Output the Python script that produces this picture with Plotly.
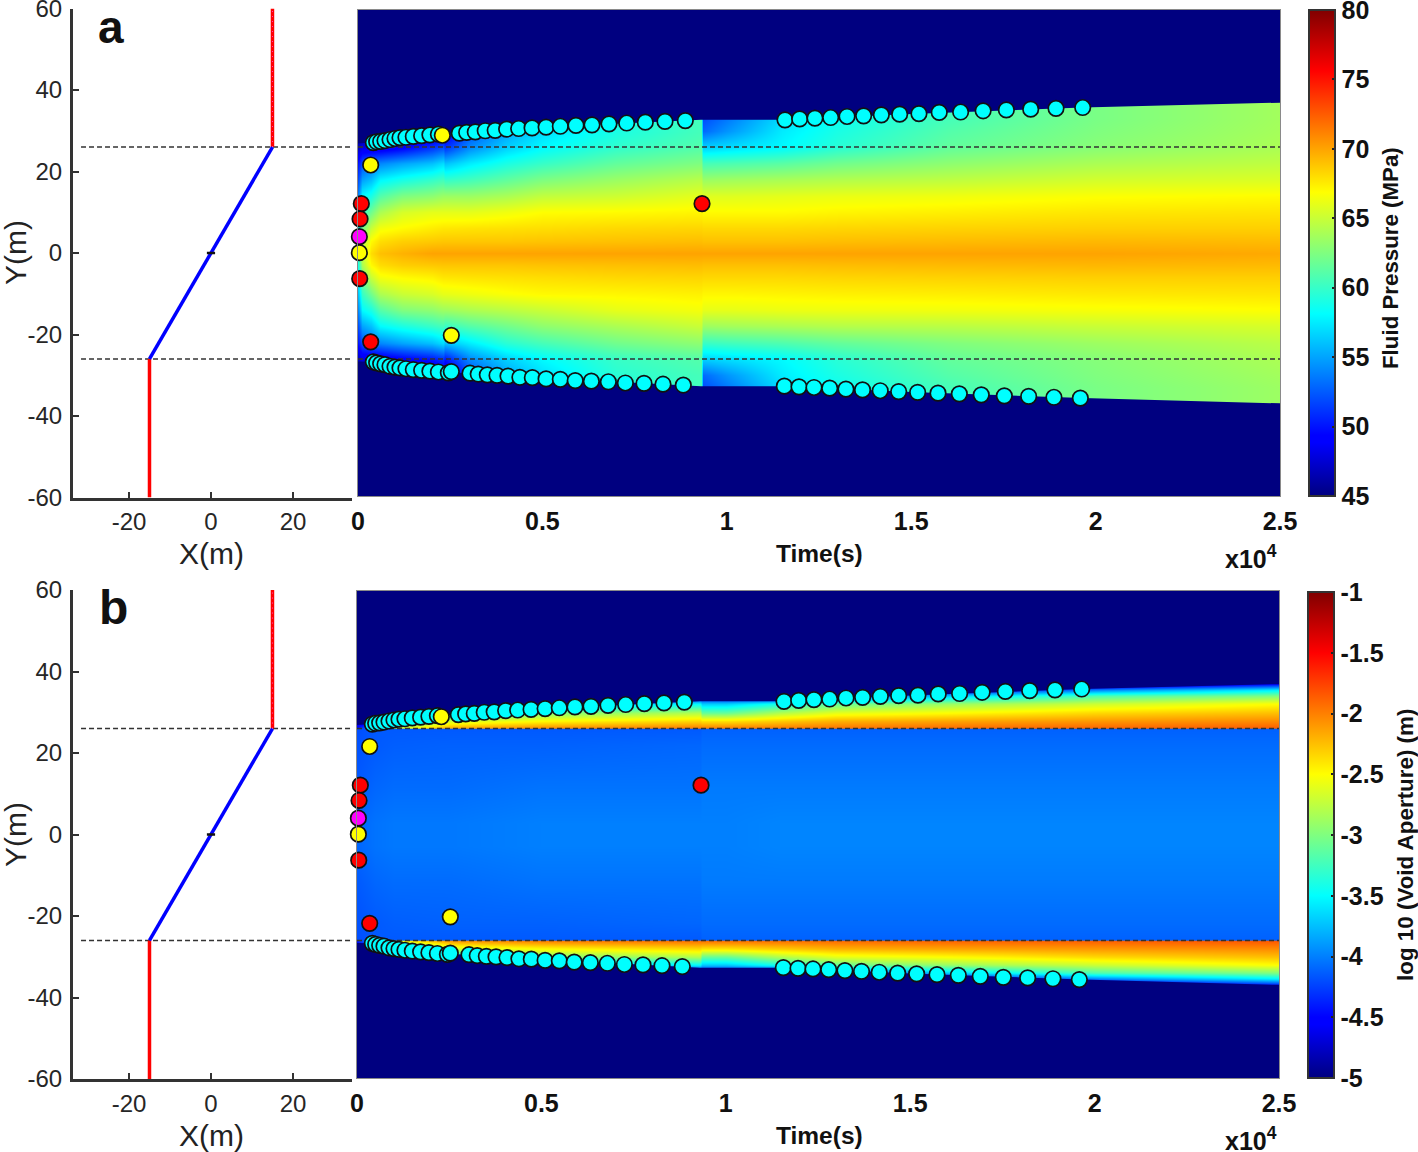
import plotly.graph_objects as go

W, H = 1418, 1152
FONT = "Liberation Sans"

# geometry of the fracture, metres
wall_x = [15, 15]
wall_y = [26, 60]
wall2_x = [-15, -15]
wall2_y = [-26, -60]
layer_x = [15, -15]
layer_y = [26, -26]
origin_x = [-1, 1]
origin_y = [0, 0]
layer_top = 26
layer_bottom = -26

# front positions, time in 1e4 s
cyan_top_t = [.0416, .0506, .0615, .0732, .0868, .1003, .1139, .130, .150, .1726, .195, .218,
              .2747, .2947, .318, .345, .372, .403, .4356, .472, .51, .5486, .591, .6345, .6806, .7285, .779, .8324, .8875,
              1.1578, 1.1976, 1.239, 1.2816, 1.326, 1.371, 1.419, 1.4687, 1.521, 1.576, 1.634, 1.695, 1.758, 1.824, 1.8926, 1.965]
cyan_top_y = [27.1, 27.3, 27.4, 27.6, 27.85, 28.1, 28.3, 28.4, 28.6, 28.8, 29.0, 29.15,
              29.4, 29.6, 29.7, 30.0, 30.1, 30.4, 30.55, 30.7, 30.9, 31.1, 31.3, 31.45, 31.7, 31.9, 32.1, 32.3, 32.5,
              32.68, 32.9, 33.1, 33.25, 33.5, 33.66, 33.9, 34.07, 34.2, 34.5, 34.6, 34.9, 35.1, 35.3, 35.5, 35.7]
cyan_bot_t = [.0416, .0506, .0615, .0732, .0868, .1003, .1139, .130, .150, .1726, .195, .218, .245, .253,
              .3037, .326, .3507, .377, .4067, .439, .4727, .51, .5486, .589, .6327, .6788, .7249, .7755, .827, .882,
              1.156, 1.1958, 1.2364, 1.279, 1.323, 1.368, 1.416, 1.466, 1.5175, 1.5727, 1.6305, 1.69, 1.7525, 1.8185, 1.887, 1.9586]
cyan_bot_y = [-26.7, -26.95, -27.2, -27.4, -27.8, -28.0, -28.2, -28.4, -28.6, -28.8, -29.0, -29.2, -29.4, -29.1,
              -29.5, -29.7, -29.9, -30.05, -30.2, -30.5, -30.6, -30.9, -31.0, -31.3, -31.45, -31.6, -31.9, -32.0, -32.2, -32.4,
              -32.68, -32.84, -33.0, -33.17, -33.4, -33.6, -33.8, -34.0, -34.2, -34.4, -34.56, -34.8, -35.05, -35.2, -35.4, -35.6]
red_t = [.0090, .0055, .0047, .0344, .9328]
red_y = [12.1, 8.35, -6.3, -21.8, 12.1]
yellow_t = [.0344, .2287, .0037, .253]
yellow_y = [21.6, 28.9, .08, -20.2]
magenta_t = [.0037]
magenta_y = [4.0]

# outline of the opened zone
front_t = [0, .04, .1, .2, .3, .5, .7, .9, .93, 1.158, 1.5, 1.965, 2.5]
front_top = [26.9, 27.1, 28.1, 29.1, 29.6, 30.8, 31.7, 32.6, 32.7, 32.7, 34.1, 35.7, 36.9]
front_bot = [-26.6, -26.7, -28.0, -29.1, -29.5, -30.8, -31.6, -32.5, -32.7, -32.7, -34.1, -35.6, -36.9]

# fluid pressure (MPa), one list per time column
p_t = [0, .01, .035, .06, .12, .2, .23, .235, .3, .4, .5, .7, .93, .935, 1.0, 1.15, 1.3, 1.6, 2.0, 2.5]
p_y = [-37, -33, -30, -26, -22, -18, -14, -10, -6, -3, 0, 3, 6, 10, 14, 18, 22, 26, 30, 33, 37]
p_columns = [
    [46, 46, 46, 47, 50, 52, 54, 56, 58, 59, 60, 59, 58, 56, 54, 52, 50, 47, 46, 46, 46],
    [46, 46, 46, 48, 52, 55, 58, 60, 62, 64, 65, 64, 62, 60, 58, 55, 52, 48, 46, 46, 46],
    [46, 46, 46, 48, 53, 56, 59, 62, 65, 67, 68, 67, 65, 62, 59, 56, 53, 48, 46, 46, 46],
    [46, 46, 46, 48, 54, 58, 61, 64, 66.5, 68, 69, 68, 66.5, 64, 61, 58, 54, 48, 46, 46, 46],
    [46, 46, 47, 49, 55, 59, 62.5, 65, 67, 68.5, 69.5, 68.5, 67, 65.5, 62.5, 59, 55, 49, 47, 46, 46],
    [46, 46, 47, 50, 56, 60, 63, 65.5, 67.3, 68.7, 70, 68.7, 67.5, 66, 63, 60, 56, 51, 47, 46, 46],
    [46, 46, 48, 51, 57, 60.5, 63.5, 66, 67.7, 68.8, 70, 68.8, 67.7, 66, 63.5, 60.5, 57, 52, 48, 46, 46],
    [46, 46, 47, 50, 56, 60, 63.5, 66, 67.7, 68.8, 70, 68.8, 67.7, 66, 63.5, 60, 56, 51, 48, 46, 46],
    [46, 49, 52, 54, 57.5, 61, 64, 66.3, 67.8, 68.8, 70, 68.8, 67.8, 66, 63.5, 60.5, 57.5, 54, 52, 50, 46],
    [46, 53, 55, 56.5, 59.5, 62, 64.5, 66.7, 67.9, 68.8, 70, 68.8, 67.9, 66.4, 64, 61.5, 59, 56.5, 55, 54, 46],
    [46, 56, 57, 58, 60.5, 63, 65, 67, 68, 68.9, 70, 68.9, 68, 66.9, 64.8, 62.5, 60, 58, 57, 56.5, 46],
    [46, 59, 59.5, 60, 62, 64, 66, 67.1, 68.2, 69, 70, 69, 68.2, 67, 65.2, 63.5, 61.5, 59.8, 59, 59, 46],
    [46, 60.5, 60.5, 61, 63, 65, 66.5, 67.3, 68.3, 69.1, 70, 69.1, 68.3, 67.2, 66, 64.5, 62.5, 61, 60.5, 60.5, 46],
    [46, 52, 53, 56.5, 60, 63.5, 66, 67.1, 68.2, 69, 70, 69, 68.2, 67, 65.8, 63.5, 60.5, 56.5, 53, 52, 46],
    [46, 53.5, 54.5, 57, 60.3, 63.7, 66, 67.1, 68.2, 69, 70, 69, 68.2, 67, 65.8, 63.7, 60.7, 57, 54.5, 53.5, 46],
    [46, 57, 57.5, 58, 60.8, 64, 66.2, 67.2, 68.2, 69, 70, 69, 68.2, 67, 66, 64, 61.2, 58, 57.5, 57, 46],
    [58.5, 58.5, 59, 59.5, 61.5, 64.3, 66.3, 67.3, 68.3, 69.1, 70, 69.1, 68.3, 67.2, 66.2, 64.3, 62, 59.5, 59, 58.5, 58.5],
    [60.5, 60.5, 61, 61.5, 62.5, 64.5, 66.4, 67.4, 68.4, 69.2, 70, 69.2, 68.4, 67.4, 66.4, 64.7, 63, 61.5, 61, 60.5, 60.5],
    [62.3, 62.3, 62.5, 62.7, 63.5, 65, 66.6, 67.6, 68.5, 69.3, 70, 69.3, 68.5, 67.7, 66.8, 65.4, 64, 62.8, 62.5, 62.3, 62.3],
    [63.5, 63.5, 63.7, 64, 64.5, 65.5, 66.8, 67.7, 68.5, 69.2, 69.8, 69.2, 68.5, 67.8, 67, 65.7, 64.7, 64, 63.8, 63.7, 63.7],
]

# log10 void aperture, same layout
a_t = [0, .05, .1, .25, .5, .93, .935, 1.0, 1.15, 1.3, 1.6, 2.0, 2.5]
a_y = [-37, -35.5, -34, -32, -30, -28, -26.05, -26, -22, -12, -3, 3, 12, 22, 26, 26.05, 28, 30, 32, 34, 35.5, 37]
a_columns = [
    [-5, -5, -5, -5, -5, -4.8, -4.4, -4.2, -4.18, -4.15, -4.1, -4.1, -4.15, -4.18, -4.2, -4.4, -4.8, -5, -5, -5, -5, -5],
    [-5, -5, -5, -5, -5, -4.9, -3.6, -4.15, -4.15, -4.1, -4.05, -4.05, -4.1, -4.15, -4.15, -3.6, -4.9, -5, -5, -5, -5, -5],
    [-5, -5, -5, -5, -5, -3.6, -2.6, -4.15, -4.13, -4.08, -4.03, -4.03, -4.08, -4.13, -4.15, -2.6, -3.6, -5, -5, -5, -5, -5],
    [-5, -5, -5, -5, -3.6, -2.7, -2.1, -4.15, -4.12, -4.08, -4.03, -4.03, -4.08, -4.12, -4.15, -2.1, -2.7, -3.6, -5, -5, -5, -5],
    [-5, -5, -4.8, -3.9, -3.0, -2.5, -2.0, -4.15, -4.12, -4.05, -4.0, -4.0, -4.05, -4.12, -4.15, -2.0, -2.5, -3.0, -3.9, -4.8, -5, -5],
    [-5, -5, -4.7, -3.5, -2.8, -2.35, -1.95, -4.15, -4.1, -4.05, -4.0, -4.0, -4.05, -4.1, -4.15, -1.95, -2.35, -2.8, -3.5, -4.7, -5, -5],
    [-5, -5, -4.6, -3.7, -3.1, -2.4, -1.95, -4.12, -4.08, -4.02, -4.0, -4.0, -4.02, -4.08, -4.12, -1.95, -2.4, -3.1, -3.7, -4.6, -5, -5],
    [-5, -5, -4.6, -3.7, -3.1, -2.4, -1.95, -4.12, -4.08, -4.02, -4.0, -4.0, -4.02, -4.08, -4.12, -1.95, -2.4, -3.1, -3.7, -4.6, -5, -5],
    [-5, -5, -4.7, -3.4, -2.8, -2.3, -1.95, -4.12, -4.08, -4.02, -3.98, -3.98, -4.02, -4.08, -4.12, -1.95, -2.3, -2.8, -3.4, -4.7, -5, -5],
    [-5, -5, -4.3, -3.1, -2.6, -2.2, -1.93, -4.12, -4.08, -4.02, -3.98, -3.98, -4.02, -4.08, -4.12, -1.93, -2.2, -2.6, -3.1, -4.3, -5, -5],
    [-5, -4.6, -3.7, -2.9, -2.5, -2.15, -1.9, -4.12, -4.08, -4.02, -3.98, -3.98, -4.02, -4.08, -4.12, -1.9, -2.15, -2.5, -2.9, -3.7, -4.6, -5],
    [-5, -4.0, -3.2, -2.7, -2.35, -2.1, -1.88, -4.12, -4.08, -4.02, -3.98, -3.98, -4.02, -4.08, -4.12, -1.88, -2.1, -2.35, -2.7, -3.2, -4.0, -5],
    [-4.5, -3.55, -3.0, -2.5, -2.25, -2.05, -1.85, -4.12, -4.08, -4.02, -3.98, -3.98, -4.02, -4.08, -4.12, -1.85, -2.05, -2.25, -2.5, -3.0, -3.55, -4.5],
]

jet = [[0, "rgb(0,0,128)"], [.11, "rgb(0,0,255)"], [.125, "rgb(0,0,255)"], [.375, "rgb(0,255,255)"],
       [.625, "rgb(255,255,0)"], [.875, "rgb(255,0,0)"], [1, "rgb(128,0,0)"]]

p_ticks = [45, 50, 55, 60, 65, 70, 75, 80]
a_ticks = [-5, -4.5, -4, -3.5, -3, -2.5, -2, -1.5, -1]
a_ticktext = ["-5", "-4.5", "-4", "-3.5", "-3", "-2.5", "-2", "-1.5", "-1"]
left_yticks = [-60, -40, -20, 0, 20, 40, 60]
left_ytext = ["-60", "-40", "-20", "0", "20", "40", "60"]
left_xticks = [-20, 0, 20]
left_xtext = ["-20", "0", "20"]
time_ticks = [0, .5, 1, 1.5, 2, 2.5]
time_text = ["0", "0.5", "1", "1.5", "2", "2.5"]


def px_x(p):
    return p / W


def px_y(p):
    return 1 - p / H


def transpose(cols):
    return [list(r) for r in zip(*cols, strict=True)]


def note(x, y, text, size, bold=False, angle=0, color="#111111"):
    if bold:
        text = "<b>" + text + "</b>"
    fig.add_annotation(x=px_x(x), y=px_y(y), xref="paper", yref="paper", text=text, showarrow=False,
                       textangle=angle, xanchor="center", yanchor="middle",
                       font=dict(family=FONT, size=size, color=color))


fig = go.Figure()


def add_panel(n, top, bottom, htop, hbot, hl, hr, z_x, z_y, z, zmin, zmax, cbar):
    # n is the first axis number of the pair: left panel n, map n + 1
    lx, ly = "x%s" % ("" if n == 1 else n), "y%s" % ("" if n == 1 else n)
    mx, my = "x%d" % (n + 1), "y%d" % (n + 1)

    for lev in (layer_top, layer_bottom):
        fig.add_trace(go.Scatter(x=[-31.7, 34.4], y=[lev, lev], mode="lines",
                                 line=dict(color="#333333", width=1.4, dash="5px,3px"),
                                 showlegend=False, xaxis=lx, yaxis=ly))
    for xs, ys, col, wd in [(wall_x, wall_y, "#ff0000", 3.5), (wall2_x, wall2_y, "#ff0000", 3.5),
                            (layer_x, layer_y, "#0000ff", 3.5), (origin_x, origin_y, "#111111", 2.5)]:
        fig.add_trace(go.Scatter(x=xs, y=ys, mode="lines", line=dict(color=col, width=wd),
                                 showlegend=False, xaxis=lx, yaxis=ly))
    fig.add_trace(go.Scatter(x=wall_x, y=wall_y, mode="lines", line=dict(color="#ff40c0", width=1, dash="1px,4px"),
                             showlegend=False, xaxis=lx, yaxis=ly))

    fig.add_trace(go.Heatmap(x=z_x, y=z_y, z=z, zmin=zmin, zmax=zmax, colorscale=jet, zsmooth="best",
                             colorbar=cbar, xaxis=mx, yaxis=my))
    # navy rock outside the opened zone
    fig.add_trace(go.Scatter(x=front_t + [2.6, -.1, -.1], y=front_top + [65, 65, front_top[0]], mode="lines",
                             fill="toself", fillcolor="#000080", line=dict(width=0),
                             showlegend=False, xaxis=mx, yaxis=my))
    fig.add_trace(go.Scatter(x=front_t + [2.6, -.1, -.1], y=front_bot + [-65, -65, front_bot[0]], mode="lines",
                             fill="toself", fillcolor="#000080", line=dict(width=0),
                             showlegend=False, xaxis=mx, yaxis=my))
    for lev in (layer_top, layer_bottom):
        fig.add_trace(go.Scatter(x=[0, 2.5], y=[lev, lev], mode="lines",
                                 line=dict(color="#333333", width=1.4, dash="5px,3px"),
                                 showlegend=False, xaxis=mx, yaxis=my))
    for ts, ys, col in [(cyan_top_t, cyan_top_y, "#00ffff"), (cyan_bot_t, cyan_bot_y, "#00ffff"),
                        (red_t, red_y, "#ff0000"), (magenta_t, magenta_y, "#ff00ff"), (yellow_t, yellow_y, "#ffff00")]:
        fig.add_trace(go.Scatter(x=ts, y=ys, mode="markers", cliponaxis=False,
                                 marker=dict(color=col, size=15.5, line=dict(color="#111111", width=1.7)),
                                 showlegend=False, xaxis=mx, yaxis=my))

    centre = (top + bottom) / 2
    scale = (bottom - top) / 120
    tick_font = dict(family=FONT, size=24, color="#262626")
    bold_font = dict(family=FONT, size=25, color="#111111", weight="bold")
    fig.update_layout({
        ("xaxis" if n == 1 else "xaxis%d" % n): dict(
            domain=[px_x(73), px_x(352)], range=[-33.66, 34.4], anchor=ly,
            tickvals=left_xticks, ticktext=left_xtext, ticks="inside", ticklen=6, tickwidth=2,
            tickcolor="#333333", showline=True, linecolor="#333333", linewidth=3, showgrid=False,
            zeroline=False, tickfont=tick_font, ticklabelstandoff=1, ticklabeloverflow="allow"),
        ("yaxis" if n == 1 else "yaxis%d" % n): dict(
            domain=[px_y(bottom), px_y(top)], range=[-60, 60], anchor=lx,
            tickvals=left_yticks, ticktext=left_ytext, ticks="inside", ticklen=6, tickwidth=2,
            tickcolor="#333333", showline=True, linecolor="#333333", linewidth=3, showgrid=False,
            zeroline=False, tickfont=tick_font, ticklabelstandoff=3, ticklabeloverflow="allow"),
        "xaxis%d" % (n + 1): dict(
            domain=[px_x(hl), px_x(hr)], range=[0, 2.5], anchor=my,
            tickvals=time_ticks, ticktext=time_text, ticks="", showline=True, linecolor="#8a8a8a",
            linewidth=1, mirror=True, showgrid=False, zeroline=False, tickfont=bold_font, ticklabelstandoff=3,
            ticklabeloverflow="allow"),
        "yaxis%d" % (n + 1): dict(
            domain=[px_y(hbot), px_y(htop)], range=[(centre - hbot) / scale, (centre - htop) / scale], anchor=mx,
            showticklabels=False, ticks="", showline=True, linecolor="#8a8a8a", linewidth=1, mirror=True,
            showgrid=False, zeroline=False),
    })


def bar(left, bottom, length, vals, text=None):
    return dict(x=px_x(left), xanchor="left", xref="paper", y=px_y(bottom), yanchor="bottom", yref="paper",
                lenmode="pixels", len=length, thicknessmode="pixels", thickness=26, xpad=0, ypad=0,
                outlinecolor="#333333", outlinewidth=2, ticks="inside", ticklen=4, tickwidth=1.5, tickcolor="#222222",
                tickvals=vals, ticktext=text, ticklabeloverflow="allow",
                tickfont=dict(family=FONT, size=25, color="#111111", weight="bold"))


add_panel(1, 8.5, 497.5, 10, 496, 358, 1280, p_t, p_y, transpose(p_columns), 45, 80,
          bar(1309, 496, 486, p_ticks, [str(v) for v in p_ticks]))
add_panel(3, 590, 1079, 591, 1078, 357, 1279, a_t, a_y, transpose(a_columns), -5, -1,
          bar(1308, 1078, 486, a_ticks, a_ticktext))

note(111, 27, "a", 46, bold=True)
note(113, 607, "b", 48, bold=True)
note(212, 553, "X(m)", 30, color="#222222")
note(212, 1135, "X(m)", 30, color="#222222")
note(15, 253, "Y(m)", 30, angle=-90, color="#222222")
note(15, 835, "Y(m)", 30, angle=-90, color="#222222")
note(819, 553, "Time(s)", 24.5, bold=True)
note(819, 1135, "Time(s)", 24.5, bold=True)
note(1251, 557, "x10<sup>4</sup>", 25, bold=True)
note(1251, 1139, "x10<sup>4</sup>", 25, bold=True)
note(1390, 258, "Fluid Pressure (MPa)", 22.3, bold=True, angle=-90)
note(1405, 845, "log 10 (Void Aperture) (m)", 22.4, bold=True, angle=-90)

fig.update_layout(width=W, height=H, margin=dict(l=0, r=0, t=0, b=0, autoexpand=False),
                  paper_bgcolor="white", plot_bgcolor="white", showlegend=False)
# the page's default 8px body margin would push the figure out of the window
fig.write_html("out.html", config=dict(displayModeBar=False),
               post_script="document.body.style.margin='0';")
